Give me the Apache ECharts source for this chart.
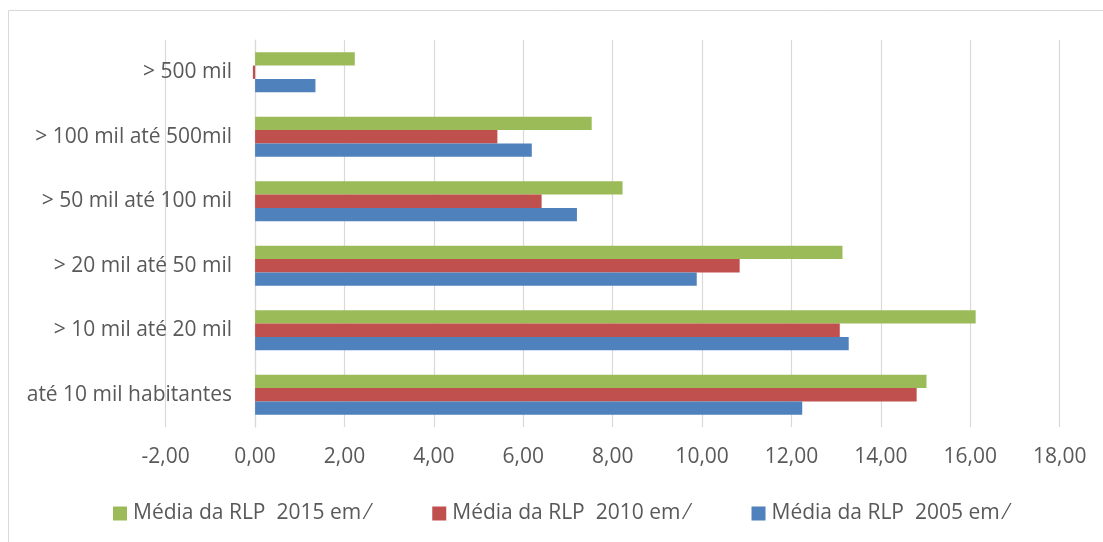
<!DOCTYPE html>
<html>
<head>
<meta charset="utf-8">
<script src="https://cdn.jsdelivr.net/npm/echarts@6/dist/echarts.min.js"></script>
<style>
html,body{margin:0;padding:0;background:#fff;}
#chart{width:1103px;height:542px;}
</style>
</head>
<body>
<div id="chart"></div>
<script>
const categories = ["até 10 mil habitantes", "> 10 mil até 20 mil", "> 20 mil até 50 mil", "> 50 mil até 100 mil", "> 100 mil até 500mil", "> 500 mil"];
const seriesNames = ["Média da RLP  2015 em ⁄", "Média da RLP  2010 em ⁄", "Média da RLP  2005 em ⁄"];
const values2015 = [15.02, 16.12, 13.14, 8.22, 7.53, 2.23];
const values2010 = [14.80, 13.08, 10.84, 6.41, 5.42, -0.05];
const values2005 = [12.24, 13.28, 9.88, 7.20, 6.19, 1.35];
const xTicks = { min: -2, max: 18, interval: 2 };
const colors = ["#9BBB59", "#C0504D", "#4F81BD"];

const font = "'Open Sans', Lato, sans-serif";
const fs = 21;
const gridLeft = 165.7, gridRight = 43.3;
const chart = echarts.init(document.getElementById('chart'), null, { renderer: 'canvas' });
const allValues = [values2015, values2010, values2005];
const plotW = 1103 - gridLeft - gridRight;
const zeroOffset = plotW * (0 - xTicks.min) / (xTicks.max - xTicks.min);
chart.setOption({
  animation: false,
  textStyle: { fontFamily: font },
  graphic: [{
    type: 'rect', shape: { x: 8.5, y: 10.5, width: 1200, height: 700 },
    style: { fill: 'none', stroke: '#d9d9d9', lineWidth: 1 }, silent: true, z: -10
  }],
  grid: { left: gridLeft, right: gridRight, top: 40, bottom: 115, containLabel: false, outerBoundsMode: 'none' },
  legend: {
    data: seriesNames,
    left: 113, top: 503, padding: 0,
    icon: 'rect', itemWidth: 14, itemHeight: 14, itemGap: 63,
    textStyle: { fontFamily: font, fontSize: fs, color: '#595959', padding: [0, 0, 0, 1] }
  },
  xAxis: {
    type: 'value', min: xTicks.min, max: xTicks.max, interval: xTicks.interval,
    axisLine: { show: false }, axisTick: { show: false },
    splitLine: { show: true, lineStyle: { color: '#d9d9d9', width: 1.2 } },
    axisLabel: {
      margin: 20, fontFamily: font, fontSize: fs, color: '#595959',
      formatter: v => v.toFixed(2).replace('.', ',')
    }
  },
  yAxis: {
    type: 'category', data: categories,
    offset: -zeroOffset,
    axisLine: { show: true, onZero: false, lineStyle: { color: '#d9d9d9', width: 1.2 } },
    axisTick: { show: false },
    axisLabel: { margin: 23, fontFamily: font, fontSize: fs, color: '#595959' }
  },
  series: seriesNames.map((n, i) => ({
    name: n, type: 'bar', data: allValues[i],
    barGap: '0%', barCategoryGap: '38%',
    itemStyle: { color: colors[i] }
  }))
});
</script>
</body>
</html>
